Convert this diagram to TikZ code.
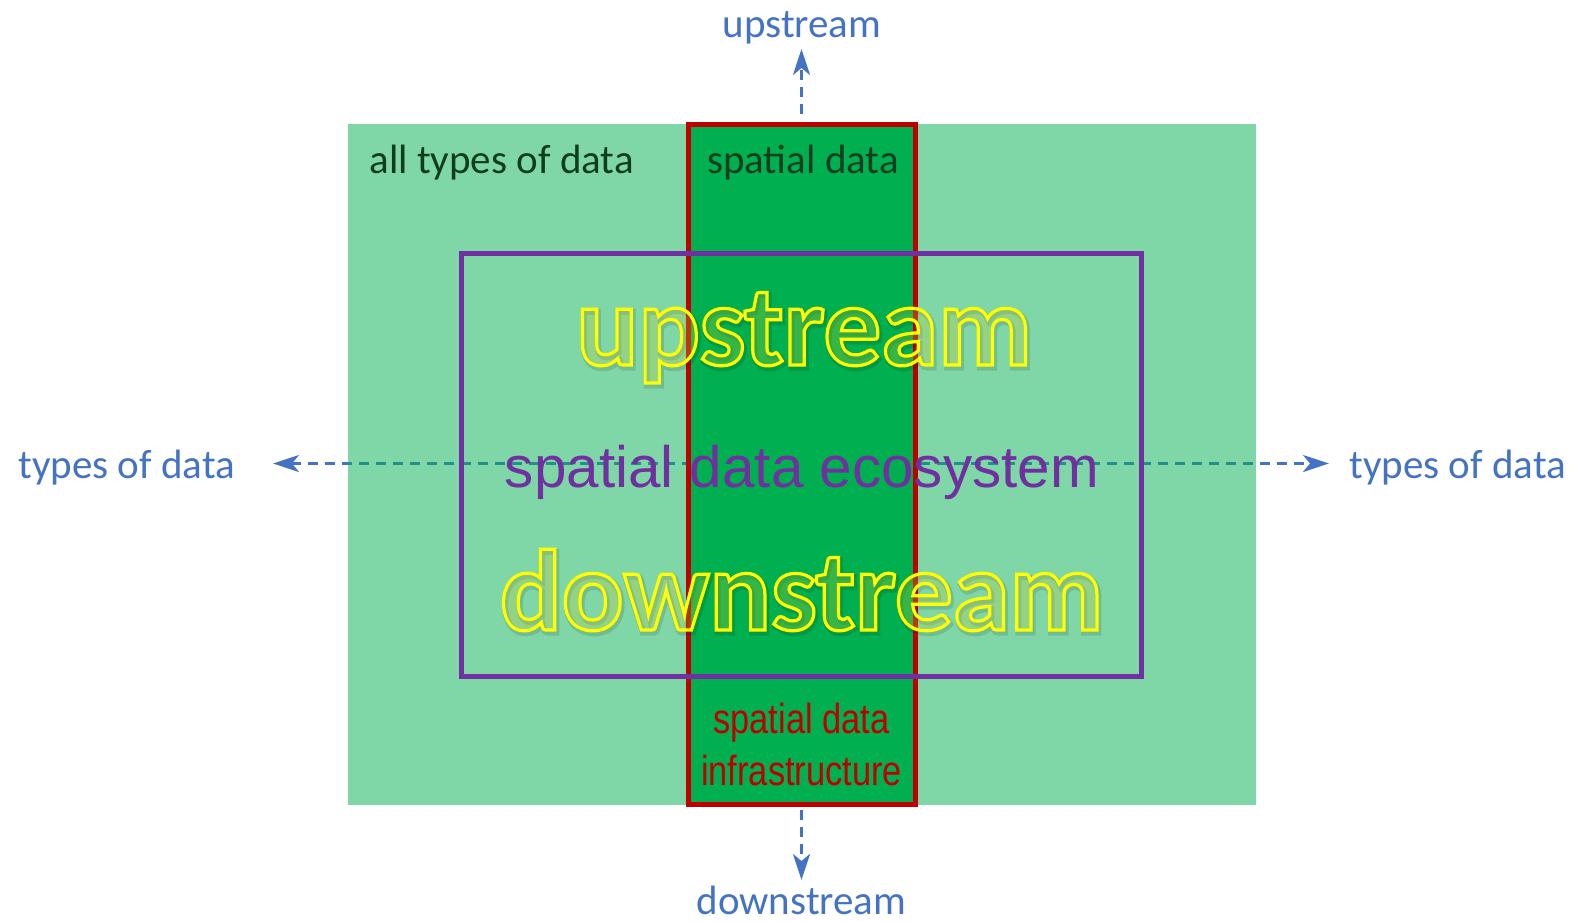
\documentclass[tikz,border=0pt]{standalone}
\usepackage{fontspec}
\setmainfont{Carlito}
\newfontfamily\arialfont{Liberation Sans}
\newfontfamily\narrowfont[FakeStretch=0.82]{Liberation Sans}
\usetikzlibrary{arrows.meta}

\definecolor{lineblue}{HTML}{4472C4}
\definecolor{datagreen}{HTML}{00B050}
\definecolor{sdired}{HTML}{C00000}
\definecolor{ecopurple}{HTML}{7030A0}
\definecolor{darktext}{HTML}{0F3D1E}
\definecolor{glowfill}{RGB}{195,200,50}

% outlined glyphs: fill in the current colour, stroke in yellow
\newcommand\outlinetext[1]{%
  \special{pdf:literal direct 1 1 0 RG 1.6 w 2 Tr}#1\special{pdf:literal direct 0 Tr}}
% stroke-only glyphs for the soft drop shadow
\newcommand\shadowtext[1]{%
  \special{pdf:literal direct 0 0 0 RG 3 w 1 Tr}#1\special{pdf:literal direct 0 Tr}}

\begin{document}
\begin{tikzpicture}[x=0.5pt,y=-0.5pt,
  >={Stealth[length=13pt,width=8.5pt,inset=3.5pt]},
  axislabel/.style={text=lineblue, font=\fontsize{20.5}{24}\selectfont, inner sep=0},
  flow/.style={draw=lineblue, line width=1.4pt, dash pattern=on 5pt off 3.5pt},
  bigword/.style={inner sep=0, anchor=base, font=\fontsize{57.5}{60}\selectfont\bfseries},
  sdiword/.style={inner sep=0, anchor=base, text=sdired, font=\narrowfont\fontsize{21}{26}\selectfont},
]
\useasboundingbox (0,0) rectangle (1576,922);

% horizontal axis: types of data
\coordinate (hl) at (273,463.5);
\coordinate (hr) at (1329,463.5);
\draw[flow, <->] (hl) -- (hr);

% all types of data
\node[rectangle, inner sep=0, fill=datagreen, fill opacity=0.5,
      minimum width=454pt, minimum height=340.5pt] (alldata) at (802,464.5) {};

% spatial data column
\node[rectangle, inner sep=0, fill=datagreen, draw=sdired, line width=2.5pt,
      minimum width=113.5pt, minimum height=340pt] (sdi) at (801.5,464) {};

% spatial data ecosystem frame
\node[rectangle, inner sep=0, draw=ecopurple, line width=2.5pt,
      minimum width=340pt, minimum height=211.5pt] (eco) at (801.5,464.5) {};

% vertical axis: upstream / downstream
\coordinate (vt) at (801.5,49);
\coordinate (vb) at (801.5,880);
\draw[flow, ->] ([yshift=4pt]sdi.north) -- (vt);
\draw[flow, ->] ([yshift=-1.5pt]sdi.south) -- (vb);

% axis labels
\node[axislabel, anchor=base] (uplabel) at (802,37) {upstream};
\node[axislabel, anchor=base] (downlabel) at (801.5,914) {downstream};
\node[axislabel, anchor=base west] (leftlabel) at (18,478) {types of data};
\node[axislabel, anchor=base west] (rightlabel) at (1349,478) {types of data};

% region captions
\node[inner sep=0, anchor=base west, text=darktext, font=\fontsize{20.5}{24}\selectfont]
  (alltypes) at (369,173) {all types of data};
\node[inner sep=0, anchor=base, text=darktext, font=\fontsize{20.5}{24}\selectfont]
  (spatial) at (803,173) {spatial data};
\node[sdiword] (infra1) at (801.5,733) {spatial data};
\node[sdiword] (infra2) at (801.5,785) {infrastructure};

% ecosystem title
\node[inner sep=0, anchor=base, text=ecopurple, font=\arialfont\fontsize{29.2}{32}\selectfont]
  (ecotitle) at (802,487) {spatial data ecosystem};

% upstream / downstream headline words
\node[bigword] (upshadow) at (805.5,367.5)
  {\pgfsetstrokeopacity{0.12}\shadowtext{upstream}};
\node[bigword] (downshadow) at (803,632.5)
  {\pgfsetstrokeopacity{0.12}\shadowtext{downstream}};
\node[bigword] (upword) at (804,365)
  {\pgfsetfillopacity{0.28}\color{glowfill}\outlinetext{upstream}};
\node[bigword] (downword) at (801.5,630)
  {\pgfsetfillopacity{0.28}\color{glowfill}\outlinetext{downstream}};
\end{tikzpicture}
\end{document}
